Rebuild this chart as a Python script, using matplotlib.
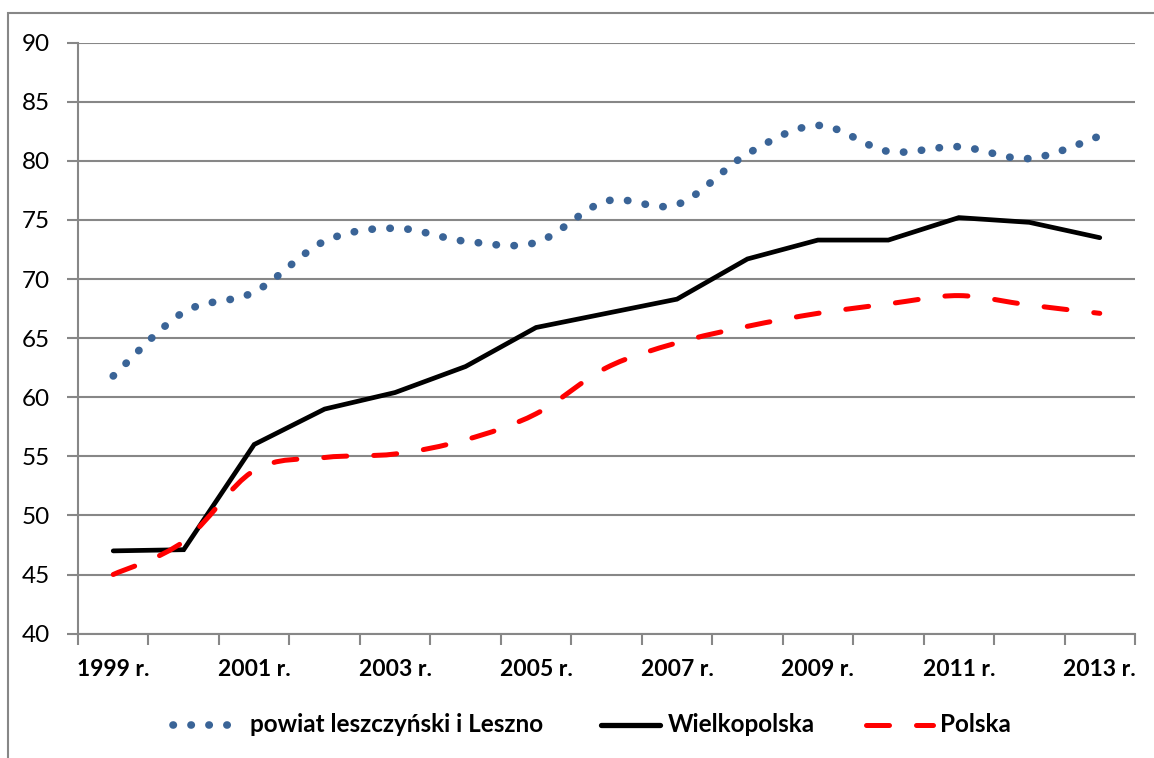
import matplotlib
matplotlib.use("Agg")
import matplotlib.pyplot as plt
from matplotlib.path import Path
from matplotlib.patches import PathPatch, Rectangle
from matplotlib.lines import Line2D

years = list(range(1999, 2014))
tick_labels = [f"{y} r." for y in years]
powiat = [61.8, 67.2, 68.9, 73.2, 74.3, 73.2, 73.1, 76.6, 76.3, 80.6, 83.0, 80.8, 81.2, 80.2, 82.1]
wielkopolska = [47.0, 47.1, 56.0, 59.0, 60.4, 62.6, 65.9, 67.1, 68.3, 71.7, 73.3, 73.3, 75.2, 74.8, 73.5]
polska = [45.0, 47.8, 53.8, 54.9, 55.2, 56.4, 58.6, 62.5, 64.6, 66.0, 67.1, 67.9, 68.6, 67.8, 67.1]
names = ["powiat leszczyński i Leszno", "Wielkopolska", "Polska"]

BLUE = "#3A6497"
RED = "#FF0000"
GRAY = "#878787"
W, H = 1154, 758

plt.rcParams['font.family'] = ['Lato', 'DejaVu Sans']

fig = plt.figure(figsize=(W / 100, H / 100), dpi=100)
ax = fig.add_axes([78 / W, 1 - 633.6 / H, (1135 - 78) / W, (633.6 - 42.7) / H])

x = list(range(len(years)))


def smooth_path(xs, ys):
    n = len(xs)
    verts = [(xs[0], ys[0])]
    codes = [Path.MOVETO]
    for i in range(n - 1):
        p0 = i - 1 if i > 0 else i
        p3 = i + 2 if i + 2 < n else i + 1
        c1 = (xs[i] + (xs[i + 1] - xs[p0]) / 6.0, ys[i] + (ys[i + 1] - ys[p0]) / 6.0)
        c2 = (xs[i + 1] - (xs[p3] - xs[i]) / 6.0, ys[i + 1] - (ys[p3] - ys[i]) / 6.0)
        verts += [c1, c2, (xs[i + 1], ys[i + 1])]
        codes += [Path.CURVE4] * 3
    return Path(verts, codes)


DOT = (0, (0.05, 2.3))
DASH = (0, (4.6, 5.4))

ax.add_patch(PathPatch(smooth_path(x, powiat), fill=False, edgecolor=BLUE, linewidth=5.5,
                       linestyle=DOT, capstyle='round', zorder=3))
ax.plot(x, wielkopolska, color="black", linewidth=3.4, solid_capstyle='round',
        solid_joinstyle='miter', zorder=4)
ax.add_patch(PathPatch(smooth_path(x, polska), fill=False, edgecolor=RED, linewidth=3.6,
                       linestyle=DASH, capstyle='round', zorder=5))

ax.set_xlim(-0.5, len(years) - 0.5)
ax.set_ylim(40, 90)
ax.set_yticks(range(40, 91, 5))
ax.set_xticks([i for i in x if i % 2 == 0])
ax.set_xticklabels([tick_labels[i] for i in x if i % 2 == 0], fontweight='bold', fontsize=16.5)
ax.set_xticks([i - 0.5 for i in range(len(years) + 1)], minor=True)
ax.tick_params(axis='x', which='major', length=0, pad=18)
ax.tick_params(axis='x', which='minor', length=8, width=1.5, color=GRAY)
ax.tick_params(axis='y', length=8, width=1.5, color=GRAY, labelsize=17.5, pad=12)
ax.grid(axis='y', color=GRAY, linewidth=1.5, zorder=0)
ax.set_axisbelow(True)
for s in ['top', 'right']:
    ax.spines[s].set_visible(False)
for s in ['left', 'bottom']:
    ax.spines[s].set_color(GRAY)
    ax.spines[s].set_linewidth(1.5)

# legend drawn manually to match the original spacing
ly = 1 - 725 / H
lb = 1 - 732 / H
fig.add_artist(Line2D([173 / W, 228 / W], [ly, ly], transform=fig.transFigure, color=BLUE,
                      linewidth=5.5, linestyle=DOT, dash_capstyle='round'))
fig.text(250 / W, lb, names[0], fontsize=17.5, fontweight='bold', va='baseline', ha='left')
fig.add_artist(Line2D([601 / W, 660 / W], [ly, ly], transform=fig.transFigure, color="black",
                      linewidth=3.8, solid_capstyle='round'))
fig.text(668 / W, lb, names[1], fontsize=17.5, fontweight='bold', va='baseline', ha='left')
fig.add_artist(Line2D([865.5 / W, 932.5 / W], [ly, ly], transform=fig.transFigure, color=RED,
                      linewidth=3.6, linestyle=DASH, dash_capstyle='round'))
fig.text(940 / W, lb, names[2], fontsize=17.5, fontweight='bold', va='baseline', ha='left')

fig.patches.append(Rectangle((8 / W, -0.05), 1.2, 1 - 13 / H + 0.05, transform=fig.transFigure,
                             fill=False, edgecolor=GRAY, linewidth=1.5))

fig.savefig("out.png", dpi=100)
